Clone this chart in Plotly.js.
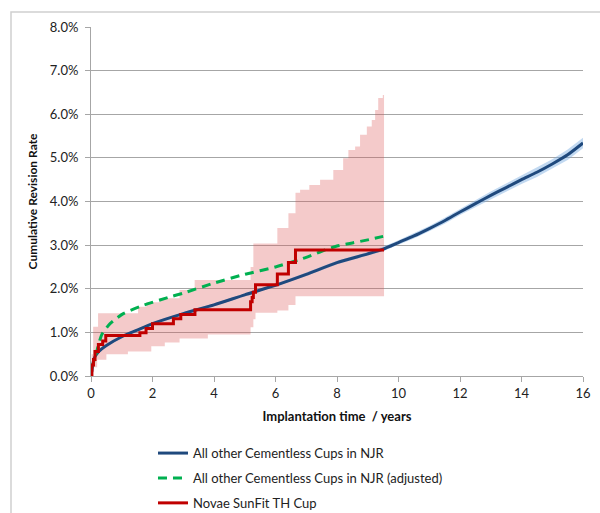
<!DOCTYPE html>
<html><head><meta charset="utf-8">
<script src="https://cdn.plot.ly/plotly-3.0.1.min.js"></script>
<style>html,body{margin:0;padding:0;background:#fff}#chart{width:600px;height:513px}</style>
</head><body><div id="chart"></div>
<script>
// All other cementless cups (years, cumulative revision rate %)
const otherX = [0,0.05,0.1,0.25,0.5,1,1.5,2,3,4,5,6,7,8,9,9.5,10,10.5,11,11.5,12,12.5,13,13.5,14,14.5,15,15.5,16];
const otherY = [0,0.22,0.4,0.56,0.7,0.9,1.05,1.2,1.43,1.63,1.86,2.08,2.33,2.6,2.8,2.91,3.06,3.21,3.38,3.56,3.76,3.95,4.14,4.32,4.5,4.67,4.86,5.07,5.34];
const otherLo = [0,0.2,0.37,0.53,0.67,0.87,1.02,1.17,1.4,1.6,1.83,2.05,2.29,2.56,2.76,2.86,3.01,3.15,3.32,3.49,3.69,3.87,4.05,4.23,4.4,4.56,4.75,4.95,5.22];
const otherHi = [0,0.24,0.43,0.59,0.73,0.93,1.08,1.23,1.46,1.66,1.89,2.11,2.37,2.64,2.84,2.96,3.11,3.27,3.44,3.63,3.83,4.03,4.23,4.41,4.6,4.78,4.97,5.19,5.46];

// All other cementless cups, adjusted
const adjX = [0,0.1,0.2,0.35,0.62,1.05,1.7,2.5,3,4,5,6,7,7.5,8,8.5,9,9.5];
const adjY = [0.15,0.35,0.6,0.95,1.2,1.43,1.62,1.8,1.9,2.13,2.33,2.5,2.72,2.86,2.98,3.05,3.12,3.2];

// Novae SunFit TH Cup (step function)
const novaeX = [0,0.03,0.08,0.13,0.24,0.38,0.48,1.59,1.79,2.0,2.68,2.92,3.38,5.19,5.24,5.28,5.35,6.06,6.42,6.65,9.53];
const novaeY = [0,0.25,0.38,0.56,0.72,0.8,0.93,0.99,1.09,1.2,1.31,1.41,1.52,1.7,1.8,1.92,2.09,2.34,2.6,2.89,2.89];

// Novae confidence band
const novaeLoX = [0,0.05,0.1,0.2,0.5,1.2,1.96,2.4,2.88,3.8,5.19,5.28,5.35,6.06,6.42,6.65,9.53];
const novaeLoY = [0,0.1,0.2,0.37,0.5,0.56,0.68,0.77,0.86,0.95,1.12,1.3,1.45,1.5,1.63,1.83,1.83];
const novaeHiX = [0,0.02,0.07,0.23,1.53,1.8,2.23,2.88,3.37,5.19,5.28,6.06,6.42,6.65,6.8,7.1,7.45,7.88,8.2,8.37,8.59,8.75,8.97,9.13,9.24,9.34,9.49,9.53];
const novaeHiY = [0,0.5,1.13,1.44,1.59,1.69,1.78,1.97,2.2,2.5,3.04,3.39,3.73,4.2,4.27,4.38,4.5,4.72,4.99,5.18,5.26,5.53,5.72,5.87,6.1,6.37,6.44,6.44];

const names = ['All other Cementless Cups in NJR','All other Cementless Cups in NJR (adjusted)','Novae SunFit TH Cup'];
const xTicks = [0,2,4,6,8,10,12,14,16];
const yTicks = [0,1,2,3,4,5,6,7,8];

const F = 'Lato, "Liberation Sans", sans-serif';
const traces = [
  {x: novaeLoX, y: novaeLoY, mode:'lines', line:{width:0, shape:'hv'}, showlegend:false, hoverinfo:'skip'},
  {x: novaeHiX, y: novaeHiY, mode:'lines', line:{width:0, shape:'hv'}, fill:'tonexty', fillcolor:'rgba(220,80,80,0.3)', showlegend:false, hoverinfo:'skip'},
  {x: otherX, y: otherLo, mode:'lines', line:{width:0}, showlegend:false, hoverinfo:'skip'},
  {x: otherX, y: otherHi, mode:'lines', line:{width:0}, fill:'tonexty', fillcolor:'rgba(120,170,225,0.45)', showlegend:false, hoverinfo:'skip'},
  {x: otherX, y: otherY, name: names[0], legendgroup:'a', mode:'lines', line:{color:'#1F497D', width:3, shape:'spline', smoothing:0.6}},
  {x: adjX, y: adjY, name: names[1], legendgroup:'b', mode:'lines', line:{color:'#00B050', width:3, dash:'9px,6px', shape:'spline', smoothing:0.6}},
  {x: novaeX, y: novaeY, name: names[2], legendgroup:'c', mode:'lines', line:{color:'#C00000', width:3, shape:'hv'}}
];

const layout = {
  width:600, height:513,
  margin:{l:91, r:17, t:27, b:137, autoexpand:false},
  paper_bgcolor:'#fff', plot_bgcolor:'#fff',
  font:{family:F, size:13, color:'#222'},
  xaxis:{range:[0,16], tickvals:xTicks, ticktext:xTicks.map(String), showgrid:false, zeroline:false,
    showline:true, linecolor:'#a6a6a6', linewidth:1, ticks:'outside', ticklen:5, tickcolor:'#a6a6a6',
    tickfont:{family:F, size:13, color:'#222'}, automargin:false,
    title:{text:'Implantation time\u00A0 / years', font:{family:F, size:13, color:'#111', weight:'bold'}, standoff:12}},
  yaxis:{range:[0,8], tickvals:yTicks, ticktext:yTicks.map(v=>v.toFixed(1)+'%'), showgrid:true, gridcolor:'#a6a6a6', gridwidth:1, zeroline:false,
    showline:true, linecolor:'#a6a6a6', linewidth:1, ticks:'outside', ticklen:5, tickcolor:'#a6a6a6',
    tickfont:{family:F, size:13, color:'#222'}, ticklabelstandoff:4, automargin:false,
    title:{text:'Cumulative Revision Rate', font:{family:F, size:12, color:'#111', weight:'bold'}, standoff:9}},
  legend:{x:0.126, y:-0.178, xanchor:'left', yanchor:'top', orientation:'v', traceorder:'grouped', tracegroupgap:5,
    font:{family:F, size:13, color:'#222'}, bgcolor:'rgba(0,0,0,0)'},
  shapes:[{type:'rect', xref:'paper', yref:'paper', x0:-0.1626, x1:1.05, y0:1.043, y1:-0.42, line:{color:'#d0d0d0', width:1.5}, fillcolor:'rgba(0,0,0,0)', layer:'below'}],
  showlegend:true
};
Plotly.newPlot('chart', traces, layout, {displayModeBar:false, staticPlot:true});
</script>
</body></html>
